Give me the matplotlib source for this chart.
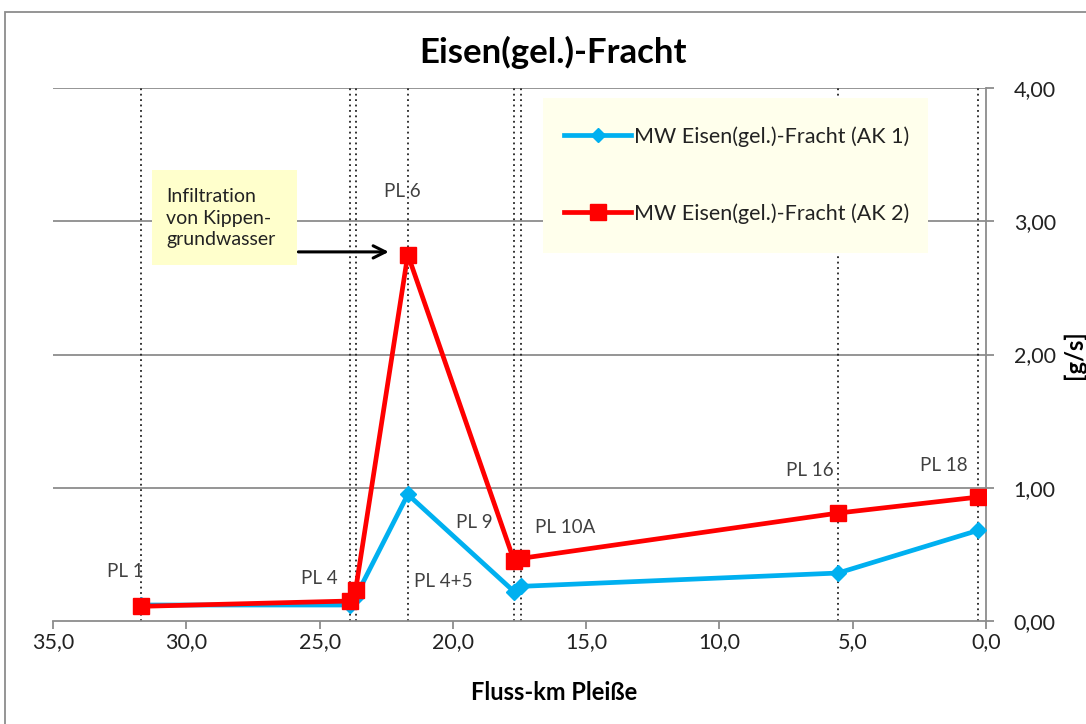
import matplotlib
matplotlib.use("Agg")
import matplotlib.pyplot as plt
from matplotlib.patches import Rectangle
from matplotlib.lines import Line2D

plt.rcParams['font.family'] = ['Lato', 'DejaVu Sans']

# Messstellen entlang der Pleiße (Fluss-km)
km = [31.7, 23.87, 23.65, 21.69, 17.70, 17.44, 5.55, 0.3]
ak1 = [0.12, 0.12, 0.18, 0.95, 0.22, 0.26, 0.36, 0.68]
ak2 = [0.11, 0.15, 0.23, 2.75, 0.45, 0.47, 0.81, 0.93]

pl_labels = ["PL 1", "PL 4", "PL 4+5", "PL 6", "PL 9", "PL 10A", "PL 16", "PL 18"]
pl_label_pos = [(32.3, 0.37), (25.0, 0.32), (20.35, 0.30), (21.9, 3.22),
                (19.2, 0.74), (15.8, 0.70), (6.6, 1.13), (1.6, 1.17)]
guide_km = [31.7, 23.87, 23.65, 21.69, 17.70, 17.44, 5.55, 0.3]

x_ticks = [35, 30, 25, 20, 15, 10, 5, 0]
y_ticks = [0, 1, 2, 3, 4]

blue = "#00B0F0"
red = "#FF0000"

fig = plt.figure(figsize=(10.86, 7.24), dpi=100)
W, H = 1086, 724
ax = fig.add_axes([53 / W, 1 - 621 / H, (986 - 53) / W, (621 - 88) / H])

ax.set_xlim(35, 0)
ax.set_ylim(0, 4)

for y in y_ticks[1:]:
    ax.axhline(y, color="#8c8c8c", lw=1.3, zorder=1)
for x in guide_km:
    ax.axvline(x, color="#222222", lw=1.3, ls=(0, (1, 2)), zorder=2)

ax.plot(km, ak1, color=blue, lw=3.4, marker="D", ms=8, mfc=blue, mec=blue,
        zorder=3, label="MW Eisen(gel.)-Fracht (AK 1)")
ax.plot(km, ak2, color=red, lw=3.4, marker="s", ms=12, mfc=red, mec=red,
        zorder=4, label="MW Eisen(gel.)-Fracht (AK 2)")

for text, (x, y) in zip(pl_labels, pl_label_pos):
    ax.text(x, y, text, fontsize=13.5, color="#404040", ha="center", va="center", zorder=5)

# axes styling
for s in ["left", "top"]:
    ax.spines[s].set_visible(False)
ax.spines["bottom"].set_color("#8c8c8c")
ax.spines["bottom"].set_linewidth(1.3)
ax.spines["right"].set_color("#8c8c8c")
ax.spines["right"].set_linewidth(1.3)
ax.yaxis.tick_right()
ax.set_xticks(x_ticks)
ax.set_xticklabels([f"{v:.1f}".replace(".", ",") for v in x_ticks])
ax.set_yticks(y_ticks)
ax.set_yticklabels([f"{v:.2f}".replace(".", ",") for v in y_ticks])
ax.tick_params(axis="both", which="both", direction="out", length=6, width=1.3,
               color="#8c8c8c", labelsize=15.5, labelcolor="#222222")
ax.tick_params(axis="x", pad=2)
ax.tick_params(axis="y", pad=14)

fig.text(554 / W, 1 - 692 / H, "Fluss-km Pleiße", fontsize=17, fontweight="bold",
         ha="center", va="center")
fig.text(1074 / W, 1 - 355 / H, "[g/s]", rotation=90, fontsize=17, fontweight="bold",
         ha="center", va="center")
fig.text(553 / W, 1 - 52 / H, "Eisen(gel.)-Fracht", fontsize=25, fontweight="bold",
         ha="center", va="center")

# legend box
fig.add_artist(Rectangle((543 / W, 1 - 253 / H), (928 - 543) / W, (253 - 98) / H,
                         transform=fig.transFigure, facecolor="#FFFFEC", edgecolor="none",
                         zorder=5))
handles = [Line2D([], [], color=blue, lw=3.4, marker="D", ms=7),
           Line2D([], [], color=red, lw=3.4, marker="s", ms=11)]
leg = fig.legend(handles, ["MW Eisen(gel.)-Fracht (AK 1)", "MW Eisen(gel.)-Fracht (AK 2)"],
                 loc="center left", bbox_to_anchor=(545 / W, 1 - 175 / H),
                 frameon=False, fontsize=15.5, labelspacing=2.6, handlelength=3.1,
                 handletextpad=0.15)
leg.set_zorder(6)
for t in leg.get_texts():
    t.set_color("#222222")

# annotation box
ax.annotate("", xy=(22.3, 2.77), xytext=(25.9, 2.77),
            arrowprops=dict(arrowstyle="->", color="black", lw=2.2,
                            mutation_scale=22), zorder=6)
fig.add_artist(Rectangle((152 / W, 1 - 265 / H), (297 - 152) / W, (265 - 170) / H,
                         transform=fig.transFigure, facecolor="#FFFFCC", edgecolor="none",
                         zorder=5))
fig.text(166 / W, 1 - 218 / H, "Infiltration\nvon Kippen-\ngrundwasser", fontsize=14,
         color="#222222", ha="left", va="center", linespacing=1.3, zorder=6)

# outer chart frame
fig.add_artist(Rectangle((5 / W, -0.1), 1.2, 1 - 12 / H + 0.1, transform=fig.transFigure,
                         facecolor="none", edgecolor="#8c8c8c", lw=1.3))

fig.savefig("out.png", dpi=100)
